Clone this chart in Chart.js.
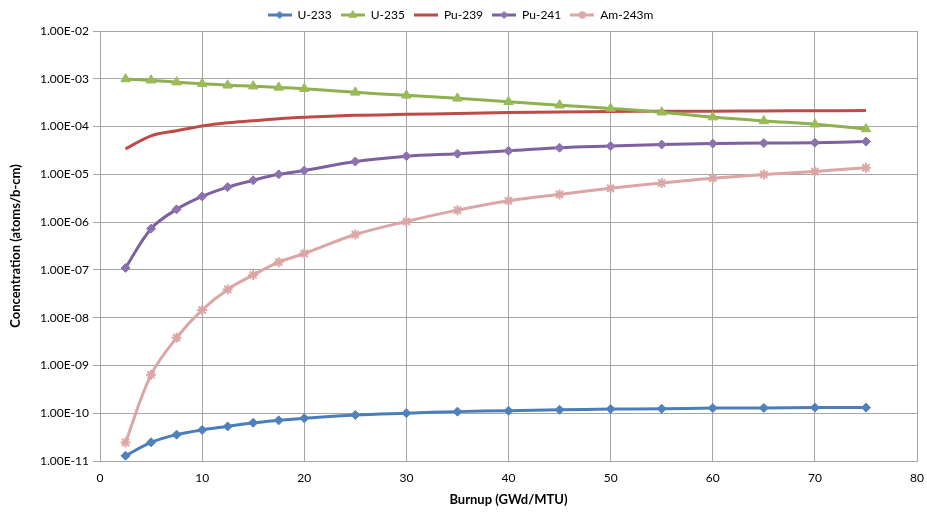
<!DOCTYPE html>
<html>
<head>
    <title>Concentration vs Burnup</title>
    <script src="https://cdn.jsdelivr.net/npm/chart.js"></script>
    <style>
        html, body { margin: 0; padding: 0; background: #fff; overflow: hidden; }
        .chart-container { width: 927px; height: 512px; }
    </style>
</head>
<body>
    <div class="chart-container">
        <canvas id="burnupChart"></canvas>
    </div>

    <script>
        // burnup steps (GWd/MTU)
        var burnup = [2.5, 5, 7.5, 10, 12.5, 15, 17.5, 20, 25, 30, 35, 40, 45, 50, 55, 60, 65, 70, 75];

        // concentrations (atoms/b-cm)
        var u233  = [1.29e-11, 2.46e-11, 3.56e-11, 4.47e-11, 5.3e-11, 6.3e-11, 7.1e-11, 7.85e-11, 9.2e-11, 1.0e-10,
                     1.08e-10, 1.13e-10, 1.18e-10, 1.22e-10, 1.24e-10, 1.28e-10, 1.29e-10, 1.31e-10, 1.31e-10];
        var u235  = [9.9e-4, 9.3e-4, 8.5e-4, 7.9e-4, 7.3e-4, 7.0e-4, 6.6e-4, 6.2e-4, 5.2e-4, 4.5e-4,
                     3.9e-4, 3.3e-4, 2.8e-4, 2.4e-4, 2.0e-4, 1.58e-4, 1.31e-4, 1.12e-4, 8.9e-5];
        var pu239 = [3.4e-5, 6.4e-5, 8.2e-5, 1.03e-4, 1.2e-4, 1.32e-4, 1.46e-4, 1.56e-4, 1.72e-4, 1.8e-4,
                     1.88e-4, 1.96e-4, 2.02e-4, 2.07e-4, 2.09e-4, 2.1e-4, 2.12e-4, 2.14e-4, 2.17e-4];
        var pu241 = [1.1e-7, 7.3e-7, 1.85e-6, 3.45e-6, 5.4e-6, 7.5e-6, 1.0e-5, 1.2e-5, 1.85e-5, 2.4e-5,
                     2.7e-5, 3.1e-5, 3.6e-5, 3.9e-5, 4.2e-5, 4.4e-5, 4.5e-5, 4.6e-5, 4.85e-5];
        var am243m = [2.45e-11, 6.4e-10, 3.8e-9, 1.45e-8, 3.9e-8, 7.8e-8, 1.45e-7, 2.2e-7, 5.5e-7, 1.03e-6,
                      1.78e-6, 2.8e-6, 3.8e-6, 5.1e-6, 6.6e-6, 8.3e-6, 9.9e-6, 1.15e-5, 1.38e-5];

        var seriesNames = ['U-233', 'U-235', 'Pu-239', 'Pu-241', 'Am-243m'];
        var yTicks = [1e-11, 1e-10, 1e-9, 1e-8, 1e-7, 1e-6, 1e-5, 1e-4, 1e-3, 1e-2];
        var xTickStep = 10;

        function pts(arr) {
            return arr.map(function(v, i) { return {x: burnup[i], y: v}; });
        }

        function fmtSci(v) {
            var e = Math.round(Math.log10(v));
            var s = String(Math.abs(e));
            if (s.length < 2) s = '0' + s;
            return '1.00E' + (e < 0 ? '-' : '+') + s;
        }

        var styles = [
            {line: '#4a7ebb', fill: '#4f81bd', point: 'rectRot', r: 4.5, bw: 1},
            {line: '#8fb04f', fill: '#9bbb59', point: 'triangle', r: 5.5, bw: 1},
            {line: '#be4b48', fill: '#be4b48', point: 'circle', r: 0, bw: 0},
            {line: '#7d60a0', fill: '#8d72b0', point: 'rectRot', r: 4.5, bw: 1},
            {line: '#dba6a5', fill: '#dba6a5', point: 'star', r: 5, bw: 2}
        ];
        var values = [u233, u235, pu239, pu241, am243m];

        // little line + marker images for the legend
        function legendImage(st) {
            var c = document.createElement('canvas');
            c.width = 24; c.height = 12;
            var g = c.getContext('2d');
            g.strokeStyle = st.line;
            g.lineWidth = 3;
            g.beginPath(); g.moveTo(0, 6); g.lineTo(24, 6); g.stroke();
            if (st.r > 0) {
                g.fillStyle = st.fill;
                g.strokeStyle = st.point === 'star' ? st.line : st.fill;
                g.lineWidth = st.bw;
                Chart.helpers.drawPoint(g, {pointStyle: st.point, radius: st.r - 1, borderWidth: st.bw,
                    rotation: 0}, 12, 6);
            }
            return c;
        }

        var datasets = values.map(function(arr, i) {
            var st = styles[i];
            return {
                label: seriesNames[i],
                data: pts(arr),
                borderColor: st.line,
                backgroundColor: st.fill,
                borderWidth: 3,
                pointStyle: st.point,
                pointRadius: st.r,
                pointBorderColor: st.point === 'star' ? st.line : st.fill,
                pointBackgroundColor: st.fill,
                pointBorderWidth: st.bw,
                tension: 0.35,
                fill: false
            };
        });

        var fontFam = 'Lato, "Open Sans", sans-serif';
        Chart.defaults.font.family = fontFam;
        Chart.defaults.color = '#000';

        var ctx = document.getElementById('burnupChart').getContext('2d');
        var burnupChart = new Chart(ctx, {
            type: 'line',
            data: {datasets: datasets},
            options: {
                responsive: true,
                maintainAspectRatio: false,
                animation: false,
                layout: {padding: {left: 4, right: 10, top: 0, bottom: 0}},
                plugins: {
                    tooltip: {enabled: false},
                    legend: {
                        position: 'top',
                        labels: {
                            usePointStyle: true,
                            pointStyleWidth: 24,
                            padding: 9,
                            font: {size: 12},
                            generateLabels: function(chart) {
                                return chart.data.datasets.map(function(ds, i) {
                                    return {
                                        text: ds.label,
                                        pointStyle: legendImage(styles[i]),
                                        fillStyle: styles[i].fill,
                                        strokeStyle: styles[i].line,
                                        lineWidth: 0,
                                        datasetIndex: i,
                                        hidden: false
                                    };
                                });
                            }
                        }
                    }
                },
                scales: {
                    x: {
                        type: 'linear',
                        min: 0,
                        max: 80,
                        ticks: {stepSize: xTickStep, padding: 10, font: {size: 12}},
                        grid: {color: '#a6a6a6', drawTicks: false},
                        border: {color: '#a6a6a6'},
                        title: {display: true, text: 'Burnup (GWd/MTU)', font: {size: 13, weight: 'bold'}, padding: {top: 4}},
                        afterFit: function(scale) {
                            scale.height = 51;
                            scale.paddingRight = 0;
                        }
                    },
                    y: {
                        type: 'logarithmic',
                        min: 1e-11,
                        max: 1e-2,
                        afterBuildTicks: function(scale) {
                            scale.ticks = yTicks.map(function(v) { return {value: v}; });
                        },
                        ticks: {
                            font: {size: 12},
                            padding: 4,
                            autoSkip: false,
                            callback: function(v) { return fmtSci(v); }
                        },
                        grid: {color: '#a6a6a6', tickLength: 7, tickColor: '#a6a6a6'},
                        border: {color: '#a6a6a6'},
                        title: {display: true, text: 'Concentration (atoms/b-cm)', font: {size: 13, weight: 'bold'}, padding: {bottom: 4}},
                        afterFit: function(scale) { scale.width = 96; }
                    }
                }
            }
        });
    </script>
</body>
</html>
